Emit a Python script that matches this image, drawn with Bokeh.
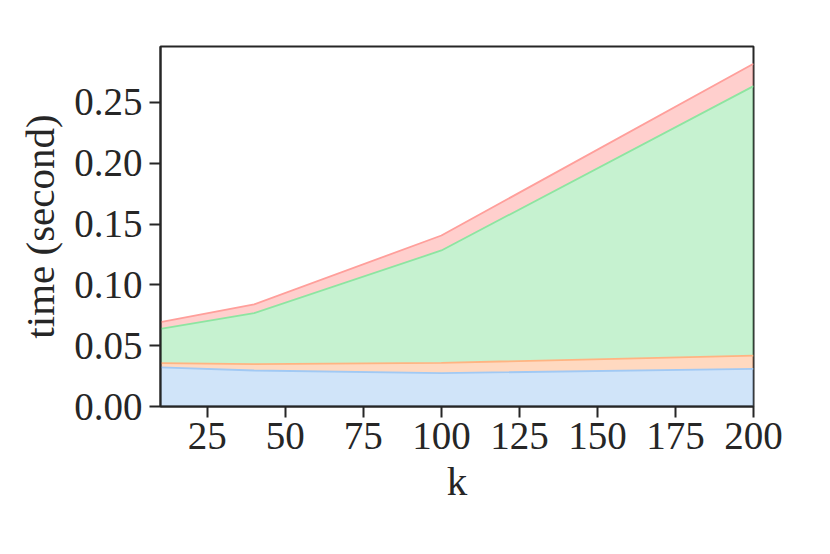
from bokeh.plotting import figure
from bokeh.models import ColumnDataSource, FixedTicker, NumeralTickFormatter, Range1d
from bokeh.transform import stack
from bokeh.embed import file_html
from bokeh.resources import INLINE

k = [10, 40, 100, 200]
blue = [0.0321, 0.0296, 0.0274, 0.0310]
orange = [0.0035, 0.0052, 0.0085, 0.0109]
green = [0.0283, 0.0420, 0.0924, 0.2215]
red = [0.0054, 0.0071, 0.0123, 0.0184]
x_ticks = [25, 50, 75, 100, 125, 150, 175, 200]
y_ticks = [0.0, 0.05, 0.10, 0.15, 0.20, 0.25]

names = ["blue", "orange", "green", "red"]
colors = ["#a1c9f4", "#ffb482", "#8de5a1", "#ff9f9b"]

src = ColumnDataSource(dict(k=k, blue=blue, orange=orange, green=green, red=red))

p = figure(width=800, height=530, output_backend="svg", toolbar_location=None,
           x_range=Range1d(10, 200), y_range=Range1d(0, 0.296),
           min_border_left=160, min_border_right=47, min_border_top=46,
           min_border_bottom=124)

for i, (n, c) in enumerate(zip(names, colors)):
    p.varea(x="k", y1=stack(*names[:i]), y2=stack(*names[:i + 1]),
            fill_color=c, fill_alpha=0.5, source=src)
for i, (n, c) in enumerate(zip(names, colors)):
    p.line(x="k", y=stack(*names[:i + 1]), line_color=c, line_width=1.8, source=src)

p.xgrid.visible = False
p.ygrid.visible = False
p.outline_line_color = "#262626"
p.outline_line_width = 2
p.background_fill_color = "white"

font = "Liberation Serif"
for ax in (p.xaxis[0], p.yaxis[0]):
    ax.axis_line_color = "#262626"
    ax.axis_line_width = 2
    ax.major_tick_line_color = "#262626"
    ax.major_tick_line_width = 2
    ax.major_tick_out = 11
    ax.major_tick_in = 0
    ax.minor_tick_line_color = None
    ax.major_label_text_font = font
    ax.major_label_text_font_size = "39px"
    ax.major_label_text_color = "#262626"
    ax.axis_label_text_font = font
    ax.axis_label_text_font_size = "41px"
    ax.axis_label_text_font_style = "normal"
    ax.axis_label_text_color = "#262626"

p.xaxis[0].ticker = FixedTicker(ticks=x_ticks)
p.yaxis[0].ticker = FixedTicker(ticks=y_ticks)
p.yaxis[0].formatter = NumeralTickFormatter(format="0.00")
p.xaxis[0].axis_label = "k"
p.yaxis[0].axis_label = "time (second)"
p.xaxis[0].major_label_standoff = 5
p.yaxis[0].major_label_standoff = 7
p.xaxis[0].axis_label_standoff = 6
p.yaxis[0].axis_label_standoff = 8

open("out.html", "w").write(file_html(p, INLINE))
